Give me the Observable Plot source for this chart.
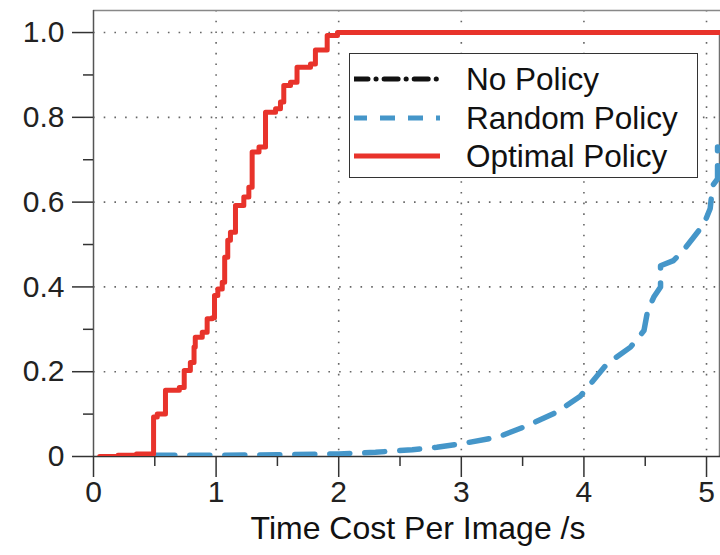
<!DOCTYPE html>
<html>
<head>
<meta charset="utf-8">
<script src="https://cdn.jsdelivr.net/npm/d3@7"></script>
<script src="https://cdn.jsdelivr.net/npm/@observablehq/plot@0.6"></script>
<style>
  html, body { margin: 0; padding: 0; background: #fff; }
  #wrap { position: relative; width: 720px; height: 555px; overflow: hidden; font-family: "Liberation Sans", Arial, Helvetica, sans-serif; }
  #legend { position: absolute; left: 349px; top: 53px; width: 347px; height: 123px; border: 1.5px solid #333; background: #fff; }
  .row { position: absolute; left: 0; height: 38px; width: 100%; }
  .row svg { position: absolute; left: 4px; top: 0; }
  .row span { position: absolute; left: 116px; top: 0; line-height: 38px; font-size: 31.5px; color: #111; white-space: nowrap; }
</style>
</head>
<body>
<div id="wrap"></div>
<script>
// ---- data ----
const seriesNames = ["No Policy", "Random Policy", "Optimal Policy"];
const seriesColors = ["#111111", "#4596c9", "#e8332b"];

const optimalX = [0.05, 0.2, 0.35, 0.49, 0.52, 0.587, 0.70, 0.74, 0.79, 0.82, 0.83, 0.887, 0.927, 0.968, 0.987, 1.014, 1.05, 1.07, 1.095, 1.117, 1.158, 1.226, 1.267, 1.294, 1.35, 1.403, 1.485, 1.525, 1.552, 1.607, 1.66, 1.77, 1.81, 1.906, 1.99, 5.3];
const optimalY = [0.0, 0.003, 0.006, 0.093, 0.10, 0.156, 0.163, 0.203, 0.222, 0.258, 0.281, 0.293, 0.325, 0.327, 0.38, 0.395, 0.411, 0.47, 0.51, 0.529, 0.592, 0.612, 0.635, 0.718, 0.73, 0.812, 0.82, 0.836, 0.875, 0.883, 0.918, 0.926, 0.959, 0.993, 1.0, 1.0];

const randomX = [0.5, 1.0, 1.5, 2.0, 2.3, 2.6, 2.8, 3.0, 3.3, 3.54, 3.78, 3.97, 4.19, 4.38, 4.49, 4.52, 4.57, 4.625, 4.625, 4.73, 4.81, 4.895, 4.98, 5.03, 5.05, 5.09, 5.09];
const randomY = [0.003, 0.003, 0.004, 0.006, 0.01, 0.016, 0.022, 0.03, 0.046, 0.073, 0.105, 0.142, 0.219, 0.258, 0.297, 0.344, 0.376, 0.40, 0.45, 0.462, 0.486, 0.517, 0.549, 0.585, 0.639, 0.655, 0.73];

const noPolicyX = [5.108, 5.108, 5.3];
const noPolicyY = [0.0, 1.0, 1.0];

const xMajorTicks = [0, 1, 2, 3, 4, 5];
const xMinorTicks = [0.5, 1.5, 2.5, 3.5, 4.5];
const yMajorTicks = [0, 0.2, 0.4, 0.6, 0.8, 1.0];
const yMinorTicks = [0.1, 0.3, 0.5, 0.7, 0.9];
const xGrid = [1, 2, 3, 4, 5];
const yGrid = [0.2, 0.4, 0.6, 0.8, 1.0];
const xLabel = "Time Cost Per Image /s";

const optimal = optimalX.map((x, i) => ({x, y: optimalY[i]}));
const random = randomX.map((x, i) => ({x, y: randomY[i]}));
const noPolicy = noPolicyX.map((x, i) => ({x, y: noPolicyY[i]}));

const fontFamily = '"Liberation Sans", Arial, Helvetica, sans-serif';

const chart = Plot.plot({
  width: 720,
  height: 555,
  marginLeft: 93,
  marginRight: 0,
  marginTop: 10,
  marginBottom: 99,
  style: {fontFamily, color: "#222", background: "#fff", overflow: "visible"},
  x: {domain: [0, 5.114]},
  y: {domain: [0, 1.052]},
  marks: [
    Plot.ruleX(xGrid, {stroke: "#666", strokeWidth: 1.6, strokeDasharray: "1.6,9.1"}),
    Plot.ruleY(yGrid, {stroke: "#666", strokeWidth: 1.6, strokeDasharray: "1.6,9.1"}),
    Plot.ruleY([1.052], {stroke: "#888", strokeWidth: 1.5}),
    Plot.ruleX([0], {stroke: "#555", strokeWidth: 1.5}),
    Plot.ruleY([0], {stroke: "#333", strokeWidth: 1.5}),
    Plot.axisX(xMajorTicks, {tickSize: 21, tickPadding: 3, fontSize: 30, tickFormat: d => String(d), label: null, stroke: "#333", strokeWidth: 1.5}),
    Plot.axisX(xMinorTicks, {tickSize: 10, tickFormat: () => "", label: null, stroke: "#333", strokeWidth: 1.5}),
    Plot.axisY(yMajorTicks, {tickSize: 21, tickPadding: 8, fontSize: 30, tickFormat: d => d === 0 ? "0" : d.toFixed(1), label: null, stroke: "#333", strokeWidth: 1.5}),
    Plot.axisY(yMinorTicks, {tickSize: 10, tickFormat: () => "", label: null, stroke: "#333", strokeWidth: 1.5}),
    Plot.line(noPolicy, {x: "x", y: "y", stroke: seriesColors[0], strokeWidth: 2, strokeOpacity: 0.6, clip: true}),
    Plot.line(random, {x: "x", y: "y", stroke: seriesColors[1], strokeWidth: 5.5, strokeDasharray: "20,15", clip: true}),
    Plot.line(optimal, {x: "x", y: "y", curve: "step-after", stroke: seriesColors[2], strokeWidth: 5, clip: true}),
    Plot.text([xLabel], {frameAnchor: "bottom", dy: 82, dx: 11, fontSize: 32, fill: "#111"})
  ]
});

const wrap = document.getElementById("wrap");
wrap.appendChild(chart);

// legend
const legend = document.createElement("div");
legend.id = "legend";
const dashes = ["14,8,0.1,8", "15,13", null];
seriesNames.forEach((name, i) => {
  const row = document.createElement("div");
  row.className = "row";
  row.style.top = (6 + i * 38.5) + "px";
  const dash = dashes[i] ? `stroke-dasharray="${dashes[i]}"` : "";
  const cap = i === 0 ? 'stroke-linecap="round"' : "";
  row.innerHTML = `<svg width="90" height="38"><line x1="${i===1?-2:0}" x2="86" y1="19" y2="19" stroke="${seriesColors[i]}" stroke-width="5" ${dash} ${cap}/></svg><span>${name}</span>`;
  legend.appendChild(row);
});
wrap.appendChild(legend);
</script>
</body>
</html>
